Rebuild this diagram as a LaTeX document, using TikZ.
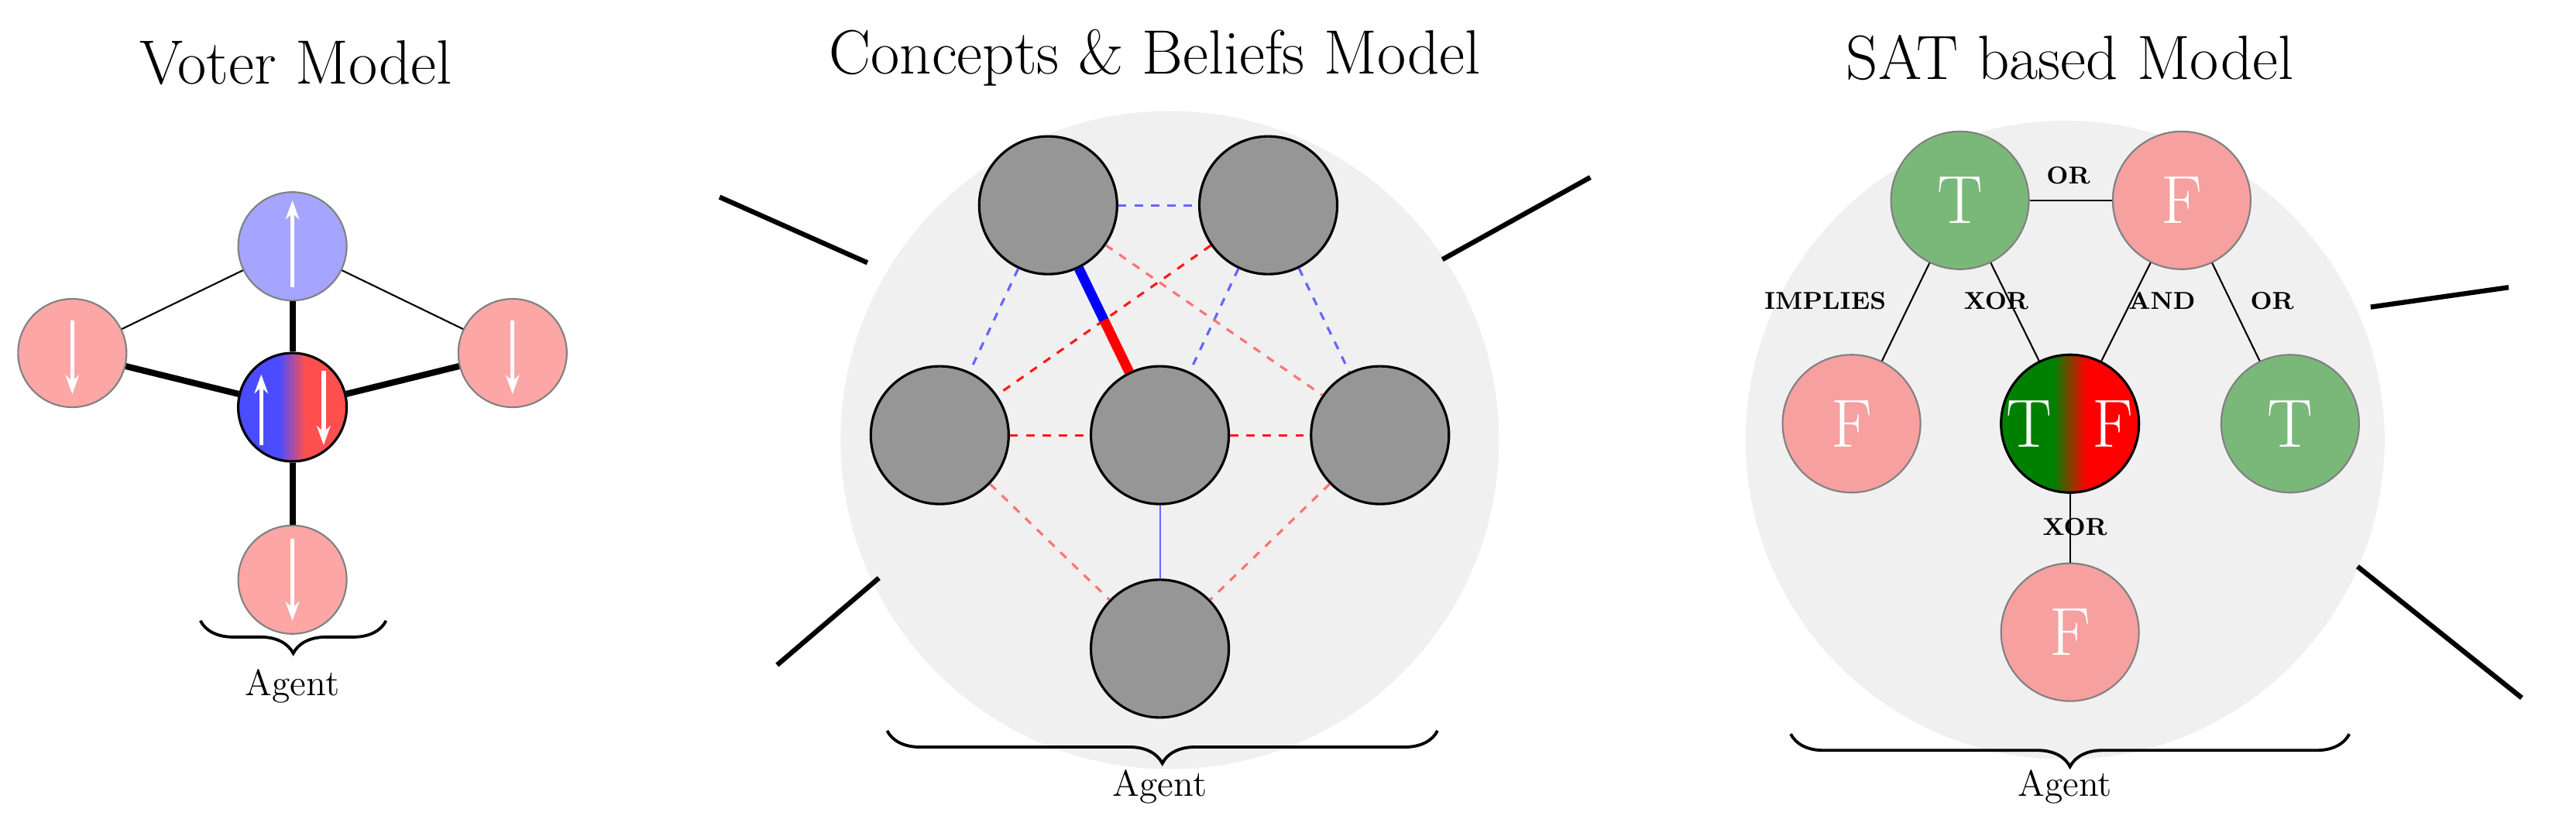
\documentclass[tikz,border=0pt]{standalone}
\usetikzlibrary{calc,decorations.pathreplacing,arrows.meta}
\definecolor{vb}{RGB}{75,75,255}
\definecolor{vr}{RGB}{255,80,80}
\definecolor{lb}{RGB}{165,165,255}
\definecolor{lr}{RGB}{252,166,166}
\definecolor{sr}{RGB}{246,160,160}
\definecolor{sg}{RGB}{122,184,122}
\definecolor{bg}{RGB}{240,240,240}
\definecolor{gn}{RGB}{150,150,150}
\pgfdeclarehorizontalshading{vshade}{100bp}{color(0bp)=(vb); color(44bp)=(vb); color(56bp)=(vr); color(100bp)=(vr)}
\pgfdeclarehorizontalshading{tfshade}{100bp}{color(0bp)=(green!50!black); color(44bp)=(green!50!black); color(56bp)=(red); color(100bp)=(red)}
\begin{document}
\begin{tikzpicture}[x=0.02121cm,y=-0.02121cm,
  vn/.style={circle,draw=gray,line width=0.6pt,minimum size=1.4cm,inner sep=0},
  cn/.style={circle,draw=black,line width=0.9pt,fill=gn,minimum size=1.78cm,inner sep=0},
  sn/.style={circle,draw=gray,line width=0.6pt,minimum size=1.78cm,inner sep=0,text=white,font=\fontsize{25}{27}\selectfont},
  warr/.style={white,line width=1.5pt,-{Stealth[length=7pt,width=5pt]}},
  thin/.style={line width=0.6pt},
  thk/.style={line width=1.8pt},
  vthk/.style={line width=2.3pt},
  bdash/.style={dashed,line width=0.9pt,blue!60},
  rdash/.style={dashed,line width=0.9pt,red!90},
  ldash/.style={dashed,line width=0.9pt,red!55},
  brc/.style={decorate,decoration={brace,mirror,amplitude=12pt},line width=1.1pt},
  ttl/.style={font=\fontsize{23}{27}\selectfont},
  ag/.style={font=\fontsize{13.5}{15}\selectfont},
  lab/.style={font=\bfseries\fontsize{9}{10}\selectfont}]
\useasboundingbox (0,0) rectangle (1568,503);
% ---------- Voter model
\node[ttl] (t1) at (180,38) {Voter Model};
\node[vn,fill=lb] (v1) at (178,150) {};
\node[vn,fill=lr] (v2) at (44,215) {};
\node[vn,fill=lr] (v3) at (312,215) {};
\node[circle,draw=black,line width=0.9pt,shading=vshade,minimum size=1.4cm,inner sep=0] (v0) at (178,248) {};
\node[vn,fill=lr] (v4) at (178,353) {};
\draw[thin] (v1) -- (v2);
\draw[thin] (v1) -- (v3);
\draw[vthk] (v1) -- (v0);
\draw[vthk] (v0) -- (v2);
\draw[vthk] (v0) -- (v3);
\draw[vthk] (v0) -- (v4);
\draw[warr] (178,175) -- (178,122);
\draw[warr] (44,195) -- (44,240);
\draw[warr] (312,195) -- (312,240);
\draw[warr] (159,271) -- (159,228);
\draw[warr] (197,226) -- (197,271);
\draw[warr] (178,328) -- (178,378);
\coordinate (b1l) at (122,378); \coordinate (b1r) at (235,378);
\draw[brc] (b1l) -- (b1r);
\node[ag] (a1) at (178,418) {Agent};
% ---------- Concepts & Beliefs
\node[ttl] (t2) at (703,35) {Concepts \& Beliefs Model};
\node[circle,fill=bg,minimum size=8.5cm,inner sep=0] (bc2) at (712,268) {};
\coordinate (o1a) at (438,120); \coordinate (o1b) at (528,160);
\coordinate (o2a) at (473,405); \coordinate (o2b) at (535,352);
\coordinate (o3a) at (878,158); \coordinate (o3b) at (968,108);
\draw[thk] (o1a) -- (o1b);
\draw[thk] (o2a) -- (o2b);
\draw[thk] (o3a) -- (o3b);
\node[cn] (g1) at (638,125) {};
\node[cn] (g2) at (772,125) {};
\node[cn] (g3) at (572,265) {};
\node[cn] (g4) at (706,265) {};
\node[cn] (g5) at (840,265) {};
\node[cn] (g6) at (706,395) {};
\draw[bdash] (g1) -- (g2);
\draw[bdash] (g1) -- (g3);
\draw[bdash] (g2) -- (g4);
\draw[bdash] (g2) -- (g5);
\draw[rdash] (g2) -- (g3);
\draw[ldash] (g1) -- (g5);
\draw[rdash] (g3) -- (g4);
\draw[rdash] (g4) -- (g5);
\draw[ldash] (g3) -- (g6);
\draw[ldash] (g5) -- (g6);
\draw[line width=0.6pt,blue!60] (g4) -- (g6);
\coordinate (gm) at ($(g1)!0.5!(g4)$);
\draw[line width=3.6pt,blue] (g1) -- (gm);
\draw[line width=3.6pt,red] (gm) -- (g4);
\coordinate (b2l) at (540,445); \coordinate (b2r) at (875,445);
\draw[brc] (b2l) -- (b2r);
\node[ag] (a2) at (706,479) {Agent};
% ---------- SAT based
\node[ttl] (t3) at (1260,35) {SAT based Model};
\node[circle,fill=bg,minimum size=8.25cm,inner sep=0] (bc3) at (1257,268) {};
\coordinate (o4a) at (1443,187); \coordinate (o4b) at (1527,175);
\coordinate (o5a) at (1435,345); \coordinate (o5b) at (1535,425);
\draw[thk] (o4a) -- (o4b);
\draw[thk] (o5a) -- (o5b);
\node[sn,fill=sg] (s1) at (1193,122) {T};
\node[sn,fill=sr] (s2) at (1328,122) {F};
\node[sn,fill=sr] (s3) at (1127,258) {F};
\node[circle,draw=black,line width=0.9pt,shading=tfshade,minimum size=1.78cm,inner sep=0,text=white,font=\fontsize{25}{27}\selectfont] (s0) at (1260,258) {T\hspace{0.6em}F};
\node[sn,fill=sg] (s4) at (1394,258) {T};
\node[sn,fill=sr] (s5) at (1260,385) {F};
\draw[thin] (s1) -- (s2);
\draw[thin] (s1) -- (s3);
\draw[thin] (s1) -- (s0);
\draw[thin] (s2) -- (s0);
\draw[thin] (s2) -- (s4);
\draw[thin] (s0) -- (s5);
\node[lab] (l1) at (1259,107) {OR};
\node[lab] (l2) at (1111,183) {IMPLIES};
\node[lab] (l3) at (1215,183) {XOR};
\node[lab] (l4) at (1316,183) {AND};
\node[lab] (l5) at (1383,183) {OR};
\node[lab] (l6) at (1263,321) {XOR};
\coordinate (b3l) at (1090,447); \coordinate (b3r) at (1430,447);
\draw[brc] (b3l) -- (b3r);
\node[ag] (a3) at (1257,479) {Agent};
\end{tikzpicture}
\end{document}
